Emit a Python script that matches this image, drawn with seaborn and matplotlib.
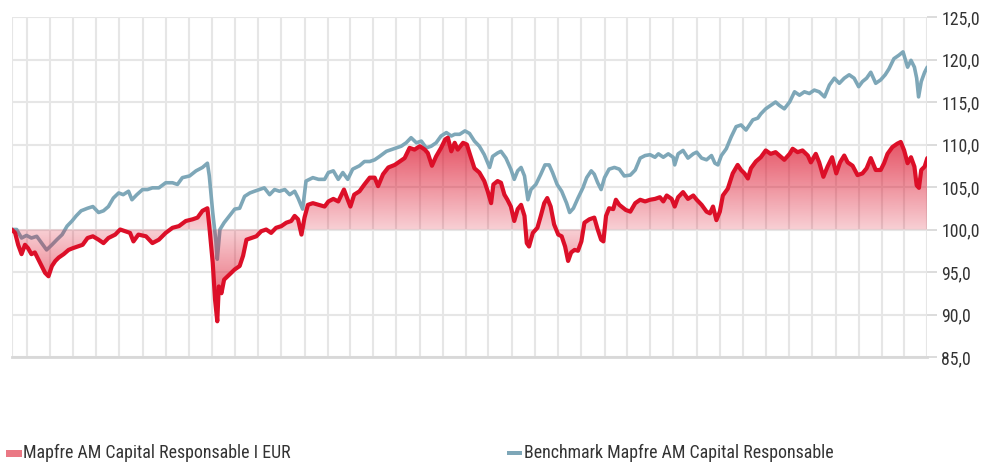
import numpy as np
import pandas as pd
import matplotlib
matplotlib.use("Agg")
import matplotlib.pyplot as plt
import matplotlib.dates as mdates
from matplotlib.colors import to_rgb
from matplotlib.patches import PathPatch, Rectangle
from matplotlib.ticker import FixedLocator, FuncFormatter
from matplotlib import font_manager
import seaborn as sns

# series names
fund_name = "Mapfre AM Capital Responsable I EUR"
bench_name = "Benchmark Mapfre AM Capital Responsable"

# fund (red)
fund_dates = [
    "2018-09-21", "2018-09-30", "2018-10-08", "2018-10-17", "2018-10-26", "2018-11-03", "2018-11-12",
    "2018-11-21", "2018-11-30", "2018-12-09", "2018-12-18", "2018-12-27", "2019-01-05", "2019-01-14",
    "2019-01-23", "2019-02-05", "2019-02-18", "2019-03-01", "2019-03-14", "2019-03-27", "2019-04-09",
    "2019-04-23", "2019-05-08", "2019-05-21", "2019-06-03", "2019-06-21", "2019-07-04", "2019-07-17",
    "2019-07-30", "2019-08-08", "2019-08-21", "2019-09-10", "2019-09-27", "2019-10-14", "2019-11-01",
    "2019-11-19", "2019-12-06", "2019-12-24", "2020-01-11", "2020-01-24", "2020-02-06", "2020-02-19",
    "2020-02-24", "2020-03-04", "2020-03-10", "2020-03-16", "2020-03-20", "2020-03-27", "2020-04-03",
    "2020-04-17", "2020-05-01", "2020-05-14", "2020-05-23", "2020-06-01", "2020-06-14", "2020-06-27",
    "2020-07-10", "2020-07-23", "2020-08-05", "2020-08-18", "2020-09-01", "2020-09-14", "2020-09-27",
    "2020-10-06", "2020-10-15", "2020-10-24", "2020-11-01", "2020-11-10", "2020-11-23", "2020-12-08",
    "2020-12-24", "2021-01-03", "2021-01-16", "2021-01-29", "2021-02-13", "2021-02-23", "2021-03-02",
    "2021-03-12", "2021-03-26", "2021-04-08", "2021-04-22", "2021-05-05", "2021-05-14", "2021-05-27",
    "2021-06-10", "2021-06-27", "2021-07-10", "2021-07-23", "2021-08-05", "2021-08-18", "2021-09-01",
    "2021-09-14", "2021-09-22", "2021-10-03", "2021-10-14", "2021-10-27", "2021-11-07", "2021-11-14",
    "2021-11-23", "2021-12-02", "2021-12-10", "2021-12-24", "2022-01-03", "2022-01-10", "2022-01-23",
    "2022-02-05", "2022-02-18", "2022-02-27", "2022-03-08", "2022-03-14", "2022-03-25", "2022-04-03",
    "2022-04-12", "2022-04-20", "2022-04-29", "2022-05-08", "2022-05-17", "2022-05-26", "2022-06-04",
    "2022-06-10", "2022-06-16", "2022-06-26", "2022-07-08", "2022-07-17", "2022-07-26", "2022-08-03",
    "2022-08-12", "2022-08-21", "2022-09-01", "2022-09-10", "2022-09-19", "2022-09-27", "2022-10-05",
    "2022-10-14", "2022-10-23", "2022-11-01", "2022-11-09", "2022-11-22", "2022-12-05", "2022-12-14",
    "2022-12-23", "2022-12-29", "2023-01-05", "2023-01-13", "2023-01-24", "2023-01-31", "2023-02-09",
    "2023-02-26", "2023-03-10", "2023-03-23", "2023-04-05", "2023-04-18", "2023-05-01", "2023-05-14",
    "2023-05-27", "2023-06-05", "2023-06-14", "2023-06-27", "2023-07-05", "2023-07-14", "2023-07-27",
    "2023-08-09", "2023-08-23", "2023-09-01", "2023-09-14", "2023-09-27", "2023-10-06", "2023-10-14",
    "2023-10-23", "2023-11-01", "2023-11-09", "2023-11-22", "2023-12-05", "2023-12-18", "2023-12-27",
    "2024-01-05", "2024-01-14", "2024-01-22", "2024-02-04", "2024-02-17", "2024-03-01", "2024-03-14",
    "2024-03-27", "2024-04-06", "2024-04-19", "2024-05-03", "2024-05-11", "2024-05-24", "2024-06-06",
    "2024-06-20", "2024-06-28", "2024-07-11", "2024-07-20", "2024-07-31", "2024-08-11", "2024-08-23",
    "2024-09-03", "2024-09-13", "2024-09-24", "2024-10-03", "2024-10-16", "2024-10-29", "2024-11-11",
    "2024-11-22", "2024-12-03", "2024-12-16", "2024-12-29", "2025-01-07", "2025-01-16", "2025-01-29",
    "2025-02-11", "2025-02-20", "2025-03-01", "2025-03-10", "2025-03-19", "2025-03-28", "2025-04-03",
    "2025-04-09", "2025-04-15", "2025-04-24", "2025-05-01",
]
fund_values = [
    100.0, 99.6, 98.2, 97.1, 98.2, 97.8, 97.1,
    97.3, 96.5, 95.7, 94.9, 94.5, 95.7, 96.3,
    96.7, 97.1, 97.6, 97.8, 98.0, 98.2, 99.0,
    99.2, 98.8, 98.4, 99.0, 99.4, 100.0, 99.8,
    99.6, 98.6, 99.4, 99.2, 98.4, 98.8, 99.6,
    100.2, 100.4, 101.0, 101.2, 101.4, 102.2, 102.5,
    100.4, 96.1, 91.8, 89.2, 93.3, 92.5, 94.1,
    94.7, 95.3, 95.7, 96.9, 98.8, 99.0, 99.2,
    99.8, 100.0, 99.6, 100.2, 100.4, 100.8, 101.0,
    101.6, 101.2, 99.4, 101.4, 102.9, 103.1, 102.9,
    102.7, 103.3, 103.6, 103.3, 104.7, 103.5, 102.7,
    104.1, 104.5, 105.3, 106.1, 106.1, 105.1, 106.5,
    107.3, 107.6, 108.0, 108.4, 109.6, 109.4, 109.8,
    109.4, 109.0, 107.5, 108.6, 109.6, 110.6, 110.8,
    109.2, 110.2, 109.4, 110.2, 110.0, 109.0, 107.2,
    106.7, 105.7, 104.5, 103.1, 105.3, 105.7, 105.5,
    104.1, 103.5, 102.7, 101.0, 102.4, 102.9, 101.6,
    98.4, 98.0, 99.6, 100.2, 101.6, 103.1, 103.7,
    102.7, 100.6, 99.4, 99.2, 98.0, 96.3, 97.3,
    97.6, 97.5, 98.6, 100.8, 101.2, 101.4, 100.0,
    98.8, 98.6, 101.6, 102.5, 102.4, 103.5, 102.9,
    102.3, 102.1, 103.1, 103.5, 103.3, 103.5, 103.6,
    103.8, 103.3, 104.0, 103.6, 102.7, 103.8, 104.4,
    103.6, 104.0, 103.5, 102.9, 102.1, 101.9, 102.7,
    101.1, 102.1, 104.0, 104.8, 106.6, 107.6, 107.0,
    106.6, 106.0, 107.2, 108.0, 108.5, 109.3, 108.9,
    109.1, 108.7, 108.2, 108.9, 109.5, 109.1, 109.3,
    108.7, 107.9, 108.9, 107.9, 106.2, 107.4, 108.5,
    106.6, 107.9, 108.7, 107.9, 107.5, 106.4, 106.6,
    107.2, 108.4, 107.0, 107.0, 107.8, 108.9, 109.7,
    110.1, 110.3, 109.3, 107.8, 108.5, 107.4, 105.2,
    104.9, 107.0, 107.4, 108.4,
]

# benchmark (blue grey)
bench_dates = [
    "2018-09-21", "2018-10-04", "2018-10-17", "2018-10-30", "2018-11-12", "2018-11-26", "2018-12-09",
    "2018-12-22", "2019-01-05", "2019-01-18", "2019-02-01", "2019-02-14", "2019-02-27", "2019-03-10",
    "2019-03-23", "2019-04-09", "2019-04-23", "2019-05-08", "2019-05-21", "2019-06-03", "2019-06-16",
    "2019-06-30", "2019-07-12", "2019-07-26", "2019-08-04", "2019-08-17", "2019-09-01", "2019-09-14",
    "2019-09-27", "2019-10-14", "2019-11-01", "2019-11-19", "2019-12-02", "2019-12-15", "2020-01-03",
    "2020-01-20", "2020-02-06", "2020-02-19", "2020-02-24", "2020-03-04", "2020-03-12", "2020-03-16",
    "2020-03-23", "2020-04-03", "2020-04-17", "2020-05-01", "2020-05-14", "2020-05-27", "2020-06-10",
    "2020-06-22", "2020-07-05", "2020-07-18", "2020-08-01", "2020-08-14", "2020-08-27", "2020-09-10",
    "2020-09-23", "2020-10-06", "2020-10-15", "2020-10-27", "2020-11-05", "2020-11-23", "2020-12-08",
    "2020-12-24", "2021-01-03", "2021-01-16", "2021-01-29", "2021-02-10", "2021-02-23", "2021-03-08",
    "2021-03-26", "2021-04-08", "2021-04-22", "2021-05-05", "2021-05-18", "2021-06-05", "2021-06-18",
    "2021-07-01", "2021-07-14", "2021-07-27", "2021-08-09", "2021-08-23", "2021-09-05", "2021-09-18",
    "2021-10-01", "2021-10-14", "2021-10-27", "2021-11-10", "2021-11-23", "2021-12-02", "2021-12-15",
    "2021-12-29", "2022-01-10", "2022-01-23", "2022-02-05", "2022-02-18", "2022-03-04", "2022-03-12",
    "2022-03-25", "2022-04-03", "2022-04-16", "2022-04-29", "2022-05-08", "2022-05-17", "2022-05-26",
    "2022-06-04", "2022-06-13", "2022-06-21", "2022-07-04", "2022-07-17", "2022-07-28", "2022-08-08",
    "2022-08-17", "2022-08-29", "2022-09-10", "2022-09-23", "2022-10-01", "2022-10-11", "2022-10-23",
    "2022-11-05", "2022-11-15", "2022-11-27", "2022-12-05", "2022-12-14", "2022-12-23", "2023-01-01",
    "2023-01-13", "2023-01-27", "2023-02-09", "2023-02-22", "2023-03-10", "2023-03-23", "2023-04-05",
    "2023-04-18", "2023-05-01", "2023-05-14", "2023-05-23", "2023-06-05", "2023-06-18", "2023-07-01",
    "2023-07-05", "2023-07-14", "2023-07-27", "2023-08-09", "2023-08-23", "2023-09-01", "2023-09-14",
    "2023-09-27", "2023-10-10", "2023-10-19", "2023-10-27", "2023-11-05", "2023-11-18", "2023-12-01",
    "2023-12-14", "2023-12-27", "2024-01-09", "2024-01-18", "2024-01-27", "2024-02-09", "2024-02-17",
    "2024-03-01", "2024-03-14", "2024-03-27", "2024-04-06", "2024-04-19", "2024-05-03", "2024-05-16",
    "2024-05-29", "2024-06-11", "2024-06-24", "2024-07-07", "2024-07-20", "2024-08-03", "2024-08-16",
    "2024-08-29", "2024-09-11", "2024-09-24", "2024-10-07", "2024-10-20", "2024-11-01", "2024-11-11",
    "2024-11-22", "2024-12-03", "2024-12-16", "2024-12-29", "2025-01-10", "2025-01-20", "2025-02-02",
    "2025-02-15", "2025-02-26", "2025-03-10", "2025-03-19", "2025-03-28", "2025-04-03", "2025-04-08",
    "2025-04-15", "2025-04-24", "2025-05-01",
]
bench_values = [
    100.0, 100.0, 99.0, 99.3, 99.0, 99.2, 98.4,
    97.6, 98.2, 98.8, 99.4, 100.4, 101.0, 101.6,
    102.2, 102.5, 102.7, 102.0, 102.2, 102.7, 103.7,
    104.3, 104.1, 104.5, 103.5, 104.1, 104.7, 104.7,
    104.9, 104.9, 105.5, 105.5, 105.3, 106.1, 106.3,
    106.9, 107.3, 107.8, 106.3, 102.0, 98.8, 96.5,
    100.0, 100.8, 101.6, 102.4, 102.5, 103.9, 104.3,
    104.5, 104.7, 104.9, 104.1, 104.7, 104.5, 104.7,
    104.1, 104.5, 103.7, 102.4, 105.7, 106.1, 105.9,
    105.9, 106.7, 106.9, 105.9, 106.7, 105.9, 107.1,
    107.5, 108.0, 108.0, 108.2, 108.6, 109.2, 109.4,
    109.6, 109.8, 110.2, 110.8, 110.2, 110.4, 109.6,
    109.8, 110.2, 111.0, 111.4, 111.0, 111.2, 111.2,
    111.6, 111.3, 110.4, 109.8, 108.8, 107.3, 108.6,
    109.0, 109.2, 108.4, 107.1, 105.9, 106.9, 107.3,
    106.3, 103.5, 104.7, 105.3, 106.5, 107.6, 107.6,
    106.7, 105.3, 104.5, 103.1, 102.0, 102.5, 103.7,
    104.9, 106.1, 106.9, 106.5, 105.5, 104.7, 106.1,
    107.1, 107.3, 107.1, 106.3, 106.4, 107.0, 108.4,
    108.7, 108.8, 108.5, 108.9, 108.5, 108.9, 108.5,
    107.6, 108.9, 109.3, 108.4, 108.9, 109.1, 108.4,
    108.2, 108.7, 107.8, 107.6, 108.7, 109.5, 110.9,
    112.1, 112.3, 111.7, 112.3, 112.9, 113.1, 113.6,
    114.2, 114.6, 115.0, 114.6, 114.2, 115.0, 116.2,
    115.8, 116.2, 116.0, 116.4, 116.2, 115.6, 117.0,
    117.8, 117.2, 117.8, 118.2, 117.8, 116.8, 117.4,
    117.8, 118.5, 117.2, 117.6, 118.2, 118.9, 120.1,
    120.5, 120.9, 119.1, 119.9, 119.1, 117.8, 115.6,
    117.4, 118.5, 119.1,
]

y_ticks = [85, 90, 95, 100, 105, 110, 115, 120, 125]
baseline = 100
start_date = "2018-09-21"
end_date = "2025-05-01"

red = "#dc0f28"
blue = "#7ea7b8"
grid_grey = "#e6e6e6"
text_grey = "#333333"

sns.set_style("white")
# pick a narrow face if one is installed
installed = {f.name for f in font_manager.fontManager.ttflist}
narrow = [n for n in ["Roboto Condensed", "Liberation Sans Narrow", "Open Sans Condensed"] if n in installed]
plt.rcParams["font.family"] = narrow + ["DejaVu Sans"]
plt.rcParams["font.stretch"] = "condensed"

fund = pd.DataFrame({"date": pd.to_datetime(fund_dates), "value": fund_values})
bench = pd.DataFrame({"date": pd.to_datetime(bench_dates), "value": bench_values})

fig = plt.figure(figsize=(9.85, 4.62), dpi=100)
ax = fig.add_axes([11.7 / 985, 1 - 357 / 462, (927.3 - 11.7) / 985, (357 - 17) / 462])

# benchmark goes under the shaded area
sns.lineplot(data=bench, x="date", y="value", ax=ax, color=blue, linewidth=2.6, zorder=3)

# gradient area between fund and 100, darker away from the baseline
x0 = mdates.date2num(pd.Timestamp(start_date))
x1 = mdates.date2num(pd.Timestamp(end_date))
levels = np.linspace(85, 125, 400).reshape(-1, 1)
rgba = np.zeros((400, 1, 4))
rgba[..., :3] = to_rgb(red)
rgba[..., 3] = np.clip(0.2 + 0.05 * np.abs(levels - baseline), 0, 0.72)
area = ax.fill_between(fund["date"], fund["value"], baseline, facecolor="none", edgecolor="none")
clip = PathPatch(area.get_paths()[0], transform=ax.transData, facecolor="none", edgecolor="none")
ax.add_patch(clip)
im = ax.imshow(rgba, extent=[x0, x1, 85, 125], origin="lower", aspect="auto", zorder=4)
im.set_clip_path(clip)

sns.lineplot(data=fund, x="date", y="value", ax=ax, color=red, linewidth=3.0, zorder=5)

ax.set_xlim(x0, x1)
ax.set_ylim(85, 125)

# grid every two months plus the start of the series
month_ticks = pd.date_range("2018-11-01", end_date, freq="2MS")
ax.xaxis.set_major_locator(FixedLocator([x0] + list(mdates.date2num(month_ticks))))
ax.set_yticks(y_ticks)
ax.yaxis.tick_right()
ax.yaxis.set_major_formatter(FuncFormatter(lambda v, p: f"{v:.1f}".replace(".", ",")))

ax.grid(True, color=grid_grey, linewidth=1.5)
ax.set_axisbelow(True)
ax.tick_params(axis="x", length=10, width=1.5, color=grid_grey, labelbottom=False)
ax.tick_params(axis="y", length=7, width=1.2, color="#d5d5d5", labelsize=12.8,
               labelcolor=text_grey, pad=3)
for s in ["top", "left", "right"]:
    ax.spines[s].set_visible(False)
ax.spines["bottom"].set_color("#d8d8d8")
ax.spines["bottom"].set_linewidth(2)
ax.set_xlabel("")
ax.set_ylabel("")

# legend along the bottom edge
fig.patches.append(Rectangle((6 / 985, 1 - 457 / 462), 16 / 985, 7 / 462, transform=fig.transFigure,
                             facecolor="#ea7884", edgecolor="none"))
fig.text(23 / 985, 1 - 457.5 / 462, fund_name, fontsize=12.9, color=text_grey, va="baseline")
fig.patches.append(Rectangle((507 / 985, 1 - 454.5 / 462), 15 / 985, 3.5 / 462, transform=fig.transFigure,
                             facecolor=blue, edgecolor="none"))
fig.text(524 / 985, 1 - 457.5 / 462, bench_name, fontsize=12.9, color=text_grey, va="baseline")

fig.savefig("out.png", dpi=100)
